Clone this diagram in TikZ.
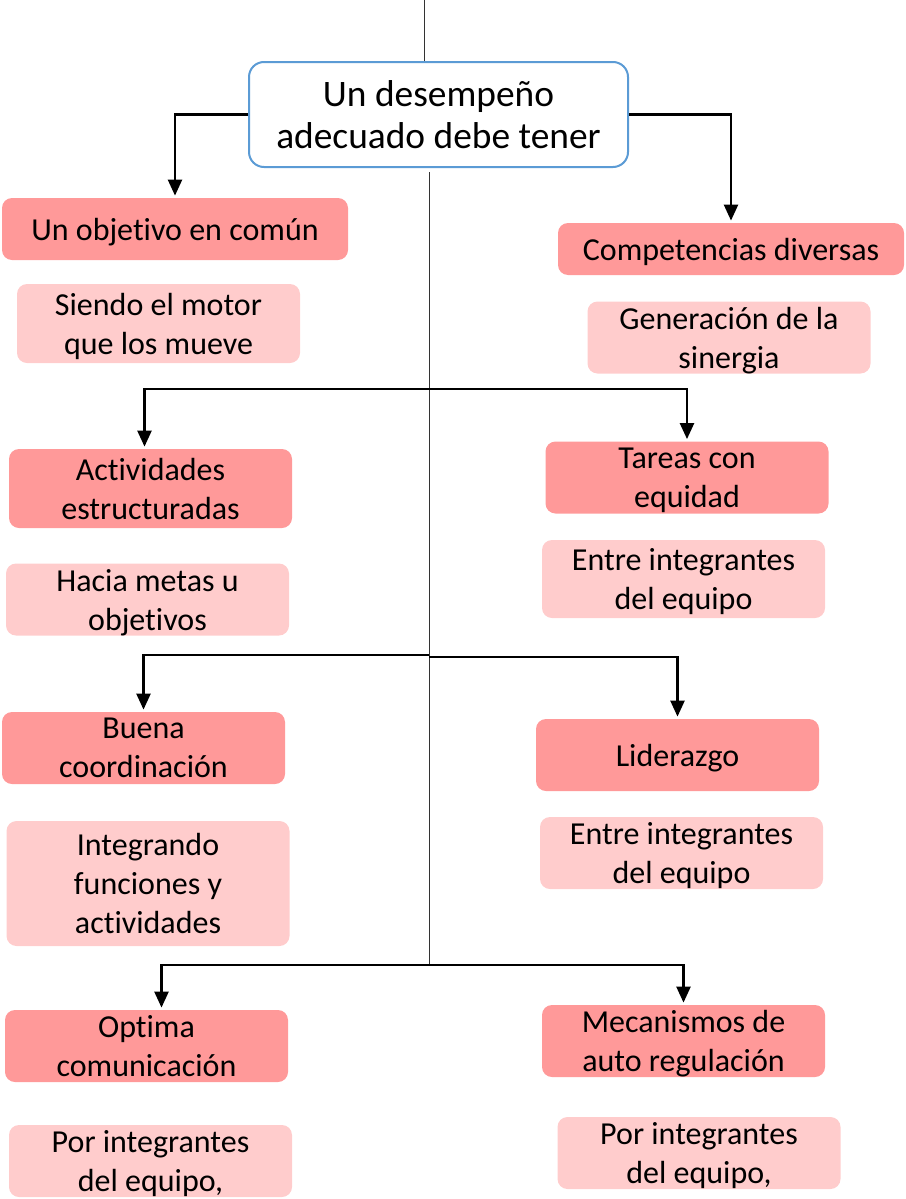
\documentclass[tikz,border=0pt]{standalone}
\usepackage{fontspec}
\setmainfont{Carlito}[Ligatures=NoCommon]
\usetikzlibrary{arrows.meta,positioning}
\definecolor{darkpink}{RGB}{255,153,153}
\definecolor{lightpink}{RGB}{255,204,204}
\definecolor{headblue}{RGB}{91,155,213}
\newcommand{\boxfont}{\fontsize{16}{19.5}\selectfont}

\begin{document}
\begin{tikzpicture}[x=0.5pt, y=-0.5pt,
    headbox/.style={draw=headblue, line width=1pt, fill=white, rounded corners=7.5pt,
        align=center, inner sep=0pt, font=\fontsize{18.7}{21}\selectfont},
    mainbox/.style={fill=darkpink, rounded corners=5pt, align=center, inner sep=0pt,
        minimum width=141.5pt, minimum height=36pt, text depth=0pt, font=\boxfont},
    subbox/.style={fill=lightpink, rounded corners=5pt, align=center, inner sep=0pt,
        minimum width=141.5pt, minimum height=36pt, text depth=0pt, font=\boxfont},
    arr/.style={draw, line width=1.2pt, -{Triangle[width=7pt,length=8pt]}, shorten >=1pt},
    thin/.style={draw, line width=0.5pt, black!80}]
        \useasboundingbox (0,0) rectangle (905,1199);
        %nodes
        \node[headbox, minimum width=189.5pt, minimum height=52.5pt] (head) at (438.5,114.5) {Un desempeño\\adecuado debe tener};
        \node[mainbox, minimum width=173pt, minimum height=31pt] (obj) at (175,229) {Un objetivo en común};
        \node[mainbox, minimum width=173pt, minimum height=26pt] (comp) at (731,249) {Competencias diversas};
        \node[subbox, minimum height=39.5pt] (motor) at (158.5,323.5) {Siendo el motor\\que los mueve};
        \node[subbox] (siner) at (729,337.5) {Generación de la\\sinergia};
        \node[mainbox, minimum height=39.5pt] (act) at (150.5,488.5) {Actividades\\estructuradas};
        \node[mainbox] (tar) at (687,477.5) {Tareas con\\equidad};
        \node[subbox] (hac) at (147.5,599.5) {Hacia metas u\\objetivos};
        \node[subbox, minimum height=39pt] (ent1) at (683.5,579) {Entre integrantes\\del equipo};
        \node[mainbox] (buen) at (143.5,748) {Buena\\coordinación};
        \node[mainbox] (lid) at (677.5,755) {Liderazgo};
        \node[subbox, minimum height=62.5pt] (integ) at (148,883.5) {Integrando\\funciones y\\actividades};
        \node[subbox] (ent2) at (681.5,853) {Entre integrantes\\del equipo};
        \node[mainbox] (opt) at (146.5,1046) {Optima\\comunicación};
        \node[mainbox] (mec) at (683.5,1041) {Mecanismos de\\auto regulación};
        \node[subbox] (por1) at (150.5,1161) {Por integrantes\\del equipo,};
        \node[subbox] (por2) at (699,1153) {Por integrantes\\del equipo,};
        %junctions
        \coordinate (top0) at (424,0);
        \coordinate (c0) at (429,172);
        \coordinate (j1) at (429,389);
        \coordinate (j2) at (429,655);
        \coordinate (j3) at (429,965);
        %edges
        \path [thin] (top0) -- (top0 |- head.north);
        \path [thin] (c0) -- (j3);
        \path [arr] (head.west) -| (obj.north);
        \path [arr] (head.east) -| (comp.north);
        \path [arr] (j1) -| ([xshift=-3pt]act.north);
        \path [arr] (j1) -| (tar.north);
        \path [arr] (j2) -| (buen.north);
        \path [arr] ([yshift=-1pt]j2) -| (lid.north);
        \path [arr] (j3) -| ([xshift=7.5pt]opt.north);
        \path [arr] (j3) -| (mec.north);
      \end{tikzpicture}
\end{document}
